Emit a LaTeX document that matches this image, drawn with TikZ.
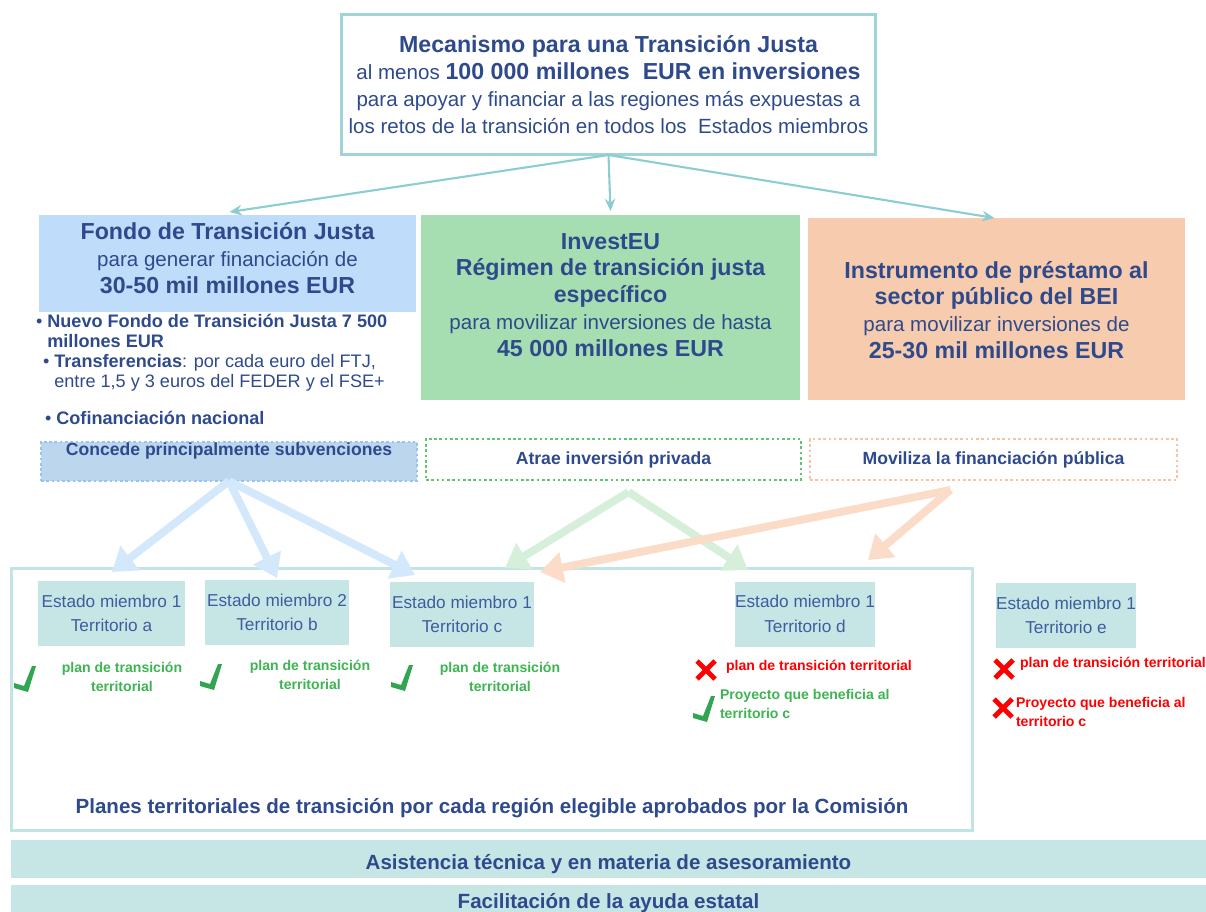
\documentclass[tikz,border=0pt]{standalone}
\usepackage{fontspec}
\setmainfont{Liberation Sans}
\usetikzlibrary{arrows.meta}

\definecolor{txtblue}{RGB}{46,74,140}
\definecolor{terrtxt}{RGB}{62,92,158}
\definecolor{tealbrd}{RGB}{160,212,214}
\definecolor{tealarr}{RGB}{140,205,210}
\definecolor{contbrd}{RGB}{194,228,229}
\definecolor{ftjfill}{RGB}{191,220,250}
\definecolor{concfill}{RGB}{188,214,238}
\definecolor{concbrd}{RGB}{150,195,245}
\definecolor{invfill}{RGB}{166,222,178}
\definecolor{beifill}{RGB}{247,203,173}
\definecolor{atrbrd}{RGB}{95,196,112}
\definecolor{movbrd}{RGB}{246,196,160}
\definecolor{fatblue}{RGB}{212,232,252}
\definecolor{fatgreen}{RGB}{214,239,218}
\definecolor{fatorange}{RGB}{251,220,200}
\definecolor{terrfill}{RGB}{198,230,230}
\definecolor{oktxtc}{RGB}{62,180,82}
\definecolor{chkgreen}{RGB}{50,165,80}
\definecolor{notxtc}{RGB}{255,0,0}

\newcommand\hdtxt[1]{{\fontsize{13.2}{15.3}\selectfont\bfseries #1}}

\begin{document}
\begin{tikzpicture}[x=0.02cm, y=-0.02cm,
  every node/.style={inner sep=0pt, outer sep=0pt, text=txtblue},
  hdbox/.style={align=center, font=\fontsize{11.7}{15.3}\selectfont},
  blist/.style={align=left, anchor=west, font=\fontsize{10.3}{11.4}\selectfont},
  tagbox/.style={fill=white, line width=1.5pt, dash pattern=on 1.5pt off 1.5pt, font=\fontsize{10}{12}\selectfont\bfseries},
  terr/.style={fill=terrfill, align=center, text=terrtxt, minimum height=1.3cm, font=\fontsize{9.8}{14}\selectfont},
  oktxt/.style={text=oktxtc, align=center, font=\fontsize{8}{10.8}\selectfont\bfseries},
  notxt/.style={text=notxtc, align=left, anchor=west, font=\fontsize{8}{10.8}\selectfont\bfseries},
  bar/.style={fill=terrfill, minimum width=23.9cm, minimum height=0.76cm, text height=12.5pt, text depth=0pt, font=\fontsize{11.7}{14}\selectfont\bfseries},
  toparrow/.style={draw=tealarr, line width=1.2pt, -{Stealth[length=7pt, width=6pt]}},
  fatarrow/.style={line width=4.5pt, -{Triangle[length=13pt, width=17pt]}},
  chk/.pic={\fill[chkgreen] (-11,4) -- (-1,7) -- (7,-13) -- (11,-13) -- (3,13) -- (-11,9) -- cycle;},
  crs/.pic={\draw[notxtc, line width=2.8pt] (-9,-9) -- (9,9) (-9,9) -- (9,-9);}]

\useasboundingbox (0,0) rectangle (1206,912);

\node (mech) [hdbox, draw=tealbrd, line width=1.7pt, minimum width=10.7cm, minimum height=2.82cm] at (608.5,84.5)
  {\hdtxt{Mecanismo para una Transición Justa}\\
   al menos \hdtxt{100 000 millones\ \ EUR en inversiones}\\
   para apoyar y financiar a las regiones más expuestas a\\
   los retos de la transición en todos los\ \ Estados miembros};

\node (ftj) [fill=ftjfill, minimum width=7.54cm, minimum height=1.94cm] at (227.5,263.5) {};
\node (ftjtxt) [hdbox] at (227.5,258)
  {\hdtxt{Fondo de Transición Justa}\\ para generar financiación de\\ \hdtxt{30-50 mil millones EUR}};

\node (invest) [fill=invfill, minimum width=7.58cm, minimum height=3.7cm] at (610.5,307.5) {};
\node (investtxt) [hdbox] at (610.5,295)
  {\hdtxt{InvestEU}\\ \hdtxt{Régimen de transición justa}\\ \hdtxt{específico}\\
   para movilizar inversiones de hasta\\ \hdtxt{45 000 millones EUR}};

\node (bei) [fill=beifill, minimum width=7.54cm, minimum height=3.64cm] at (996.5,309) {};
\node (beitxt) [hdbox] at (996.5,310)
  {\hdtxt{Instrumento de préstamo al}\\ \hdtxt{sector público del BEI}\\
   para movilizar inversiones de\\ \hdtxt{25-30 mil millones EUR}};

\node (nuevo) [blist] at (36,331) {•\ \textbf{Nuevo Fondo de Transición Justa 7 500}\\ \phantom{•\ }\textbf{millones EUR}};
\node (transf) [blist] at (43,373) {•\ \textbf{Transferencias}: por cada euro del FTJ,\\ \phantom{•\ }entre 1,5 y 3 euros del FEDER y el FSE+};
\node (cofin) [blist] at (45,418) {•\ \textbf{Cofinanciación nacional}};

\node (concede) [tagbox, fill=concfill, draw=concbrd, minimum width=7.52cm, minimum height=0.78cm] at (229,461.5) {};
\node (concedetxt) [font=\fontsize{10}{12}\selectfont\bfseries] at (229,451) {Concede principalmente subvenciones};
\node (atrae) [tagbox, draw=atrbrd, minimum width=7.5cm, minimum height=0.82cm] at (613.5,459.5) {Atrae inversión privada};
\node (moviliza) [tagbox, draw=movbrd, minimum width=7.34cm, minimum height=0.82cm] at (993.5,459.5) {Moviliza la financiación pública};

\draw[toparrow] (mech.south) -- ([shift={(2,-3)}]ftj.north);
\draw[toparrow] (mech.south) -- ([shift={(0,-4)}]invest.north);
\draw[toparrow] (mech.south) -- ([shift={(-2,0)}]bei.north);

\node (plan) [draw=contbrd, line width=1.7pt, fill=white, minimum width=19.24cm, minimum height=5.26cm] at (492,699.5) {};
\node (planestxt) [font=\fontsize{11.7}{14}\selectfont\bfseries] at (492,808)
  {Planes territoriales de transición por cada región elegible aprobados por la Comisión};

\node (ta) [terr, minimum width=2.94cm] at (111.5,613.5) {Estado miembro 1\\ Territorio a};
\node (tb) [terr, minimum width=2.88cm] at (277,612.5) {Estado miembro 2\\ Territorio b};
\node (tc) [terr, minimum width=2.88cm] at (462,614.5) {Estado miembro 1\\ Territorio c};
\node (td) [terr, minimum width=2.8cm] at (805,614) {Estado miembro 1\\ Territorio d};
\node (te) [terr, minimum width=2.8cm] at (1066,615.5) {Estado miembro 1\\ Territorio e};

\pic at (25,679) {chk};
\node (oka) [oktxt] at (122,676.5) {plan de transición\\ territorial};
\pic at (211,677) {chk};
\node (okb) [oktxt] at (310,675) {plan de transición\\ territorial};
\pic at (402,678) {chk};
\node (okc) [oktxt] at (500,676.5) {plan de transición\\ territorial};

\pic at (706,670) {crs};
\node (nod) [notxt] at (726,667) {plan de transición territorial};
\pic at (704,709) {chk};
\node (okd) [oktxt, align=left, anchor=west] at (720,703.5) {Proyecto que beneficia al\\ territorio c};

\pic at (1004,669) {crs};
\node (noe) [notxt] at (1020,664) {plan de transición territorial};
\pic at (1003,708) {crs};
\node (noe2) [notxt] at (1016,712) {Proyecto que beneficia al\\ territorio c};

\coordinate (pa) at (112,572);
\coordinate (pb) at (277,578);
\coordinate (pc) at (415,575);
\coordinate (gsrc) at ([shift={(15,12)}]atrae.south);
\coordinate (gl) at (505,568);
\coordinate (gr) at (748,570);
\coordinate (osrc) at ([shift={(-43,10)}]moviliza.south);
\coordinate (ol) at (540,572);
\coordinate (or) at (868,560);

\draw[fatarrow, fatblue] (concede.south) -- (pa);
\draw[fatarrow, fatblue] (concede.south) -- (pb);
\draw[fatarrow, fatblue] (concede.south) -- (pc);
\draw[fatarrow, fatgreen] (gsrc) -- (gl);
\draw[fatarrow, fatgreen] (gsrc) -- (gr);
\draw[fatarrow, fatorange] (osrc) -- (ol);
\draw[fatarrow, fatorange] (osrc) -- (or);

\node (asist) [bar] at (608.5,859) {Asistencia técnica y en materia de asesoramiento};
\node (ayuda) [bar, text height=5.5pt] at (608.5,904) {Facilitación de la ayuda estatal};
\end{tikzpicture}
\end{document}
